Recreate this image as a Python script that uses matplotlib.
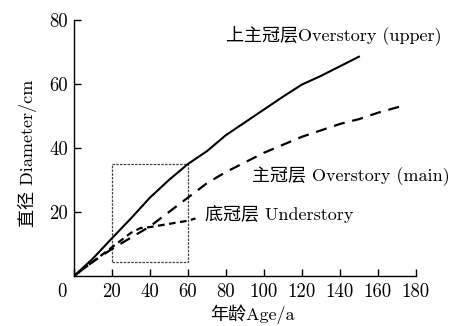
import matplotlib
matplotlib.use("Agg")
import matplotlib.pyplot as plt
import matplotlib.transforms as mtransforms
from matplotlib.patches import Rectangle

plt.rcParams['font.family'] = ['cmr10', 'Noto Sans CJK SC']

# Diameter growth by crown layer
age_upper = [0, 10, 20, 30, 40, 50, 60, 70, 80, 90, 100, 110, 120, 130, 140, 150]
dia_upper = [0, 5.5, 11.8, 18, 24.5, 30, 35, 39, 44, 48, 52, 56, 59.8, 62.5, 65.5, 68.5]

age_main = [0, 10, 20, 30, 40, 50, 60, 70, 80, 90, 100, 110, 120, 130, 140, 150, 160, 172]
dia_main = [0, 4.5, 8.5, 12, 15.5, 20, 24.5, 29, 32.5, 35.5, 38.5, 41, 43.5, 45.5, 47.5, 49, 51, 53]

age_under = [0, 10, 20, 30, 35, 40, 50, 60, 64]
dia_under = [0, 4.5, 9, 13.5, 15, 15.3, 16.3, 17.3, 18]

x_ticks = [0, 20, 40, 60, 80, 100, 120, 140, 160, 180]
y_ticks = [20, 40, 60, 80]

fig = plt.figure(figsize=(4.59, 3.26), dpi=100)
ax = fig.add_axes([0.161, 0.153, 0.745, 0.786])

ax.plot(age_upper, dia_upper, color='black', lw=1.5)
ax.plot(age_main, dia_main, color='black', lw=1.6, dashes=(5, 3.5))
ax.plot(age_under, dia_under, color='black', lw=1.6, dashes=(3, 2))

# zoomed region of early growth
ax.add_patch(Rectangle((20, 4.5), 40, 30.5, fill=False, ls=(0, (2, 1)),
                       lw=0.9, edgecolor='#444444'))

ax.text(80, 75.3, '上主冠层Overstory (upper)', fontsize=13, va='center', ha='left')
ax.text(93.7, 31.3, '主冠层 Overstory (main)', fontsize=13, va='center', ha='left')
ax.text(69, 19.4, '底冠层 Understory', fontsize=13, va='center', ha='left')

ax.set_xlim(0, 180)
ax.set_ylim(0, 80)
ax.set_xticks(x_ticks)
ax.set_xticklabels([str(v) for v in x_ticks])
ax.set_yticks(y_ticks)
ax.set_yticklabels([str(v) for v in y_ticks])
ax.tick_params(direction='in', length=5, width=1, labelsize=13.5, colors='black')
ax.tick_params(axis='x', pad=5)
ax.tick_params(axis='y', pad=4)

# shift the origin label to the left of the corner
lab0 = ax.get_xticklabels()[0]
lab0.set_transform(lab0.get_transform() + mtransforms.ScaledTranslation(-12/100, 0, fig.dpi_scale_trans))

for s in ['top', 'right']:
    ax.spines[s].set_visible(False)
for s in ['left', 'bottom']:
    ax.spines[s].set_linewidth(1)

fig.text(252/459, 1 - 314/326, '年龄Age/a', fontsize=13, ha='center', va='center')
fig.text(27/459, 1 - 153/326, '直径 Diameter/cm', fontsize=13, ha='center', va='center', rotation=90)

fig.savefig('out.png', dpi=100)
